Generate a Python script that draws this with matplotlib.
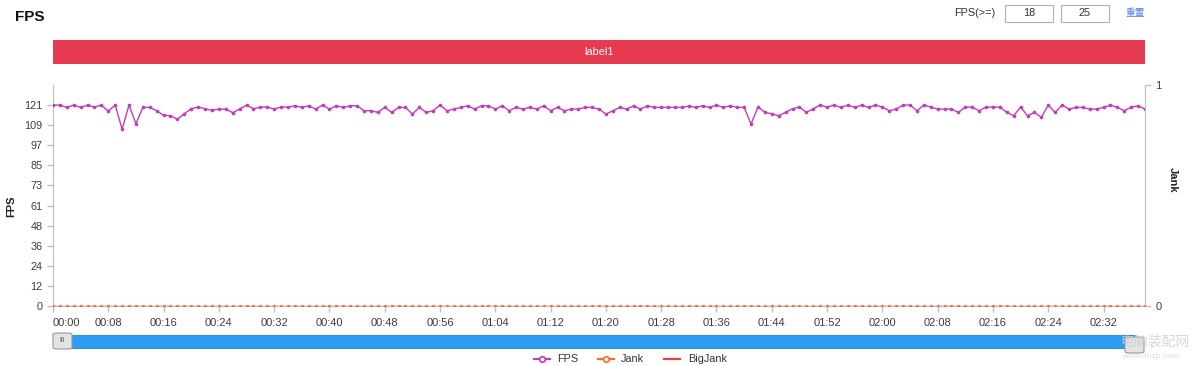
import matplotlib
matplotlib.use('Agg')
import matplotlib.pyplot as plt
from matplotlib.patches import Rectangle, FancyBboxPatch
import numpy as np

plt.rcParams['font.family'] = ['Liberation Sans', 'Noto Sans CJK SC', 'DejaVu Sans']

# FPS per second (0..158 s)
fps = [121, 121, 119.6, 121, 119.6, 121, 119.8, 121, 117.4, 121,
       106.5, 121, 109.7, 119.6, 119.6, 117.6, 114.8, 114.6, 112.5, 115.8,
       118.8, 119.8, 118.8, 117.8, 118.6, 118.6, 116.4, 118.6, 121, 118.8,
       119.8, 119.8, 118.6, 119.8, 119.8, 120.6, 119.6, 120.6, 118.6, 121,
       118.6, 120.6, 119.6, 120.6, 120.6, 117.6, 117.6, 116.6, 119.6, 116.6,
       119.6, 119.6, 115.6, 119.6, 116.6, 117.6, 121, 117.6, 118.6, 119.6,
       120.6, 118.6, 120.6, 120.6, 118.6, 120.6, 117.6, 119.6, 118.6, 119.6,
       118.6, 120.6, 117.6, 119.6, 117.6, 118.6, 118.6, 119.6, 119.6, 118.6,
       115.6, 117.6, 119.6, 118.6, 120.6, 118.6, 120.6, 119.6, 119.6, 119.6,
       119.6, 119.6, 120.4, 119.6, 120.6, 119.6, 121, 119.6, 120.6, 119.6,
       119.6, 109.5, 120, 116.6, 115.8, 114.6, 116.6, 118.8, 119.8, 116.6,
       118.8, 121, 119.8, 121, 119.6, 121, 119.6, 121, 119.6, 121,
       119.8, 117.6, 118.6, 121, 121, 117.6, 121, 119.8, 118.6, 118.6,
       118.6, 116.6, 119.8, 119.8, 117.6, 119.8, 119.8, 119.8, 116.6, 114.6,
       119.8, 114.6, 116.6, 113.6, 121, 116.6, 121, 118.6, 119.6, 119.6,
       118.6, 118.6, 119.6, 121, 119.6, 117.6, 119.8, 120.6, 118.6]
seconds = list(range(len(fps)))
jank = [0] * len(fps)
big_jank = [0] * len(fps)

y_ticks = [0, 12.1, 24.2, 36.3, 48.4, 60.5, 72.6, 84.7, 96.8, 108.9, 121]
y_labels = ['0', '12', '24', '36', '48', '61', '73', '85', '97', '109', '121']
x_ticks = list(range(0, 153, 8))
x_labels = ['%02d:%02d' % (s // 60, s % 60) for s in x_ticks]

W, H = 1200, 366
fig = plt.figure(figsize=(W / 100, H / 100), dpi=100)


def fx(x):
    return x / W


def fy(y):
    return 1 - y / H


axis_col = '#b9bfcc'
text_col = '#3c3c3c'
purple = '#c23bbd'
orange = '#ff6b2e'
red = '#e5404a'

# Main axes
L, R, T, B = 53, 1145, 85, 306
ax = fig.add_axes([fx(L), fy(B), fx(R - L), (B - T) / H])
ax.plot(seconds, fps, color=purple, linewidth=1, marker='o', markersize=2.6,
        markeredgewidth=0, zorder=3)
ax.set_xlim(0, len(fps) - 1)
ax.set_ylim(0, 133.1)
ax.set_yticks(y_ticks)
ax.set_yticklabels(y_labels)
ax.set_xticks(x_ticks)
ax.set_xticklabels(x_labels)
ax.get_xticklabels()[0].set_horizontalalignment('left')
for s in ['top', 'right']:
    ax.spines[s].set_visible(False)
ax.spines['left'].set_color(axis_col)
ax.spines['bottom'].set_color(axis_col)
ax.tick_params(axis='both', colors=axis_col, labelcolor=text_col, labelsize=7.8,
               length=4, width=1)
ax.tick_params(axis='x', pad=5, labelsize=8)
ax.set_ylabel('FPS', fontsize=8, fontweight='bold', color='#222222')
ax.yaxis.set_label_coords(-0.034, 0.45)

# Right axis for Jank
ax2 = ax.twinx()
ax2.plot(seconds, big_jank, color=red, linewidth=1, zorder=2)
ax2.plot(seconds, jank, color=orange, linewidth=0, marker='o', markersize=2.3,
         markeredgewidth=0, zorder=3)
ax2.set_ylim(0, 1)
ax2.set_yticks([0, 1])
for s in ['top', 'left', 'bottom']:
    ax2.spines[s].set_visible(False)
ax2.spines['right'].set_color(axis_col)
ax2.tick_params(axis='y', colors=axis_col, labelcolor=text_col, labelsize=8,
                length=4, width=1)
ax2.set_ylabel('Jank', fontsize=8, fontweight='bold', color='#222222', rotation=-90)
ax2.yaxis.set_label_coords(1.03, 0.57)

# Title and controls
fig.text(fx(15), fy(17), 'FPS', fontsize=11, fontweight='bold', color='#111111',
         va='center', ha='left')
fig.text(fx(995), fy(13), 'FPS(>=)', fontsize=7.8, color='#333333', va='center', ha='right')
for x0, val in [(1005, '18'), (1061, '25')]:
    fig.patches.append(Rectangle((fx(x0), fy(22)), fx(48), 17 / H, transform=fig.transFigure,
                                 facecolor='white', edgecolor='#aab0bb', linewidth=0.8))
    fig.text(fx(x0 + 24), fy(13.5), val, fontsize=7.8, color='#333333', va='center', ha='center')
fig.text(fx(1126), fy(13), '重置', fontsize=7, color='#4c7cf3', va='center', ha='left',
         family=['Noto Sans CJK SC', 'DejaVu Sans'])

# Label banner
fig.patches.append(Rectangle((fx(L), fy(64)), fx(R - L), 24 / H, transform=fig.transFigure,
                             facecolor='#e63b51', edgecolor='none'))
fig.text(fx((L + R) / 2), fy(52), 'label1', fontsize=7.8, color='white', va='center', ha='center')

# Slider
fig.patches.append(Rectangle((fx(60), fy(348)), fx(1075), 13 / H, transform=fig.transFigure,
                             facecolor='#2d9df2', edgecolor='#1f87d8', linewidth=0.6))
for x0, y0 in [(53, 349), (1125, 353)]:
    fig.patches.append(FancyBboxPatch((fx(x0), fy(y0)), fx(19), 16 / H,
                                      boxstyle='round,pad=0,rounding_size=0.004',
                                      transform=fig.transFigure, facecolor='#e3e3e3',
                                      edgecolor='#9a9a9a', linewidth=0.8))
fig.text(fx(62.5), fy(341), 'III', fontsize=5, color='#555555', va='center', ha='center')

# Legend (sits at the bottom edge)
leg_y = 359
items = [(534, 557, 'FPS', purple, True), (598, 621, 'Jank', orange, True),
         (664, 688, 'BigJank', red, False)]
for x0, xt, name, col, mk in items:
    fig.lines.append(plt.Line2D([fx(x0), fx(x0 + 16)], [fy(leg_y), fy(leg_y)],
                                transform=fig.transFigure, color=col, linewidth=1.6))
    if mk:
        fig.lines.append(plt.Line2D([fx(x0 + 8)], [fy(leg_y)], transform=fig.transFigure,
                                    marker='o', markersize=4, markerfacecolor='white',
                                    markeredgecolor=col, markeredgewidth=1.2))
    fig.text(fx(xt), fy(leg_y), name, fontsize=7.8, color='#333333', va='center', ha='left')

# Watermark
fig.text(fx(1120), fy(342), '电脑装配网', fontsize=10, color='#cfcfcf', alpha=0.8,
         va='center', ha='left', family=['Noto Sans CJK SC', 'DejaVu Sans'])
fig.text(fx(1122), fy(357), 'www.dnzp.com', fontsize=6, color='#d5d5d5', alpha=0.8,
         va='center', ha='left')

fig.savefig('out.png', dpi=100)
